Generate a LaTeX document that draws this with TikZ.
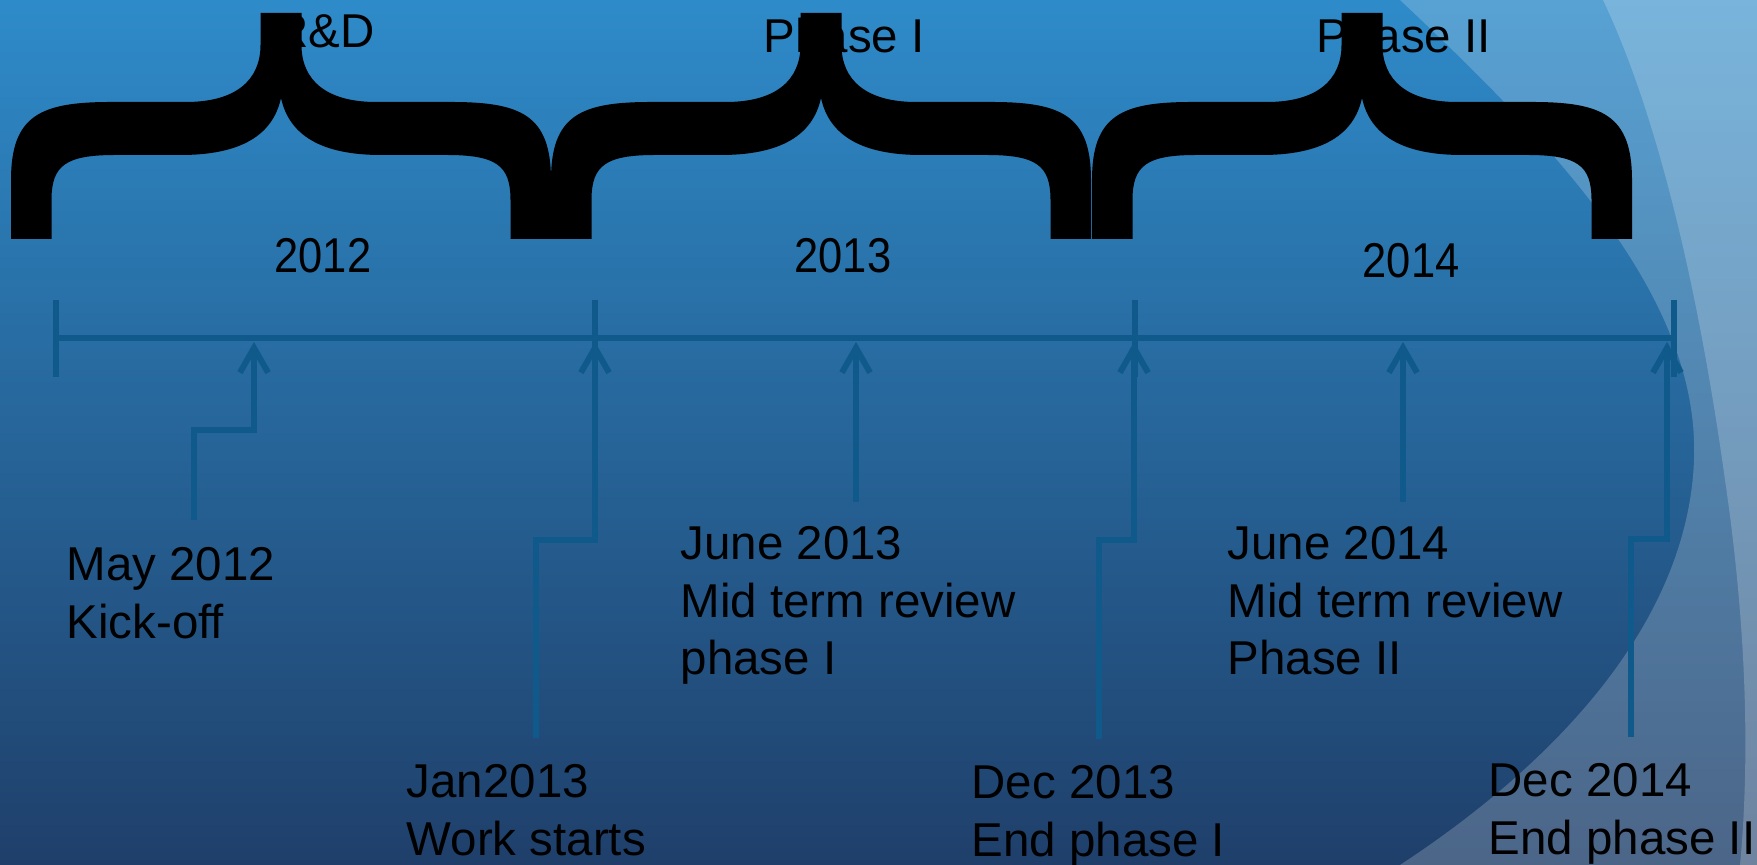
\documentclass[tikz,border=0pt]{standalone}
\usepackage{fontspec}
\setmainfont{Liberation Sans}
\newfontfamily\narrowsans[FakeStretch=0.89]{Liberation Sans}
\usetikzlibrary{arrows.meta}

\definecolor{bgtop}{HTML}{2E8BC9}
\definecolor{bgbot}{HTML}{1F3F6A}
\definecolor{axisblue}{HTML}{0F5A8A}

\tikzset{
  % one big black curly brace, opening downwards, origin at the spike centre
  pics/curlybrace/.style={code={
    \fill[black]
      (-270,239) -- (-270,180)
      .. controls (-270,115) and (-240,102) .. (-170,102) -- (-95,102)
      .. controls (-45,102) and (-20.5,80) .. (-20.5,45) -- (-20.5,13)
      -- (20.5,13) -- (20.5,45)
      .. controls (20.5,80) and (45,102) .. (95,102) -- (170,102)
      .. controls (240,102) and (270,115) .. (270,180) -- (270,239)
      -- (229.5,239) -- (229.5,200)
      .. controls (229.5,165) and (215,155) .. (165,155) -- (100,155)
      .. controls (40,155) and (8,135) .. (0,98)
      .. controls (-8,135) and (-40,155) .. (-100,155) -- (-165,155)
      .. controls (-215,155) and (-229.5,165) .. (-229.5,200)
      -- (-229.5,239) -- cycle;
  }},
  % multi-line labels: the base anchor sits on the last line
  lbl/.style={anchor=base west, align=left, inner sep=0pt,
    font=\fontsize{13.5pt}{16.36pt}\selectfont, text=black},
  hdr/.style={inner sep=0pt, font=\fontsize{13.5pt}{16pt}\selectfont, text=black},
  yearlbl/.style={anchor=base, inner sep=0pt,
    font=\narrowsans\fontsize{13.9pt}{16pt}\selectfont, text=black},
  axisline/.style={draw=axisblue, line width=1.85pt},
  milestone/.style={draw=axisblue, line width=1.7pt,
    -{Straight Barb[length=7pt,width=8pt]}},
}

\begin{document}
\begin{tikzpicture}[x=0.01cm, y=-0.01cm]
  \useasboundingbox (0,0) rectangle (1757,865);

  % background
  \shade[top color=bgtop, bottom color=bgbot] (0,0) rectangle (1757,865);
  \fill[white, fill opacity=0.2]
    (1400,0) .. controls (1560,150) and (1700,300) .. (1694,460)
    .. controls (1688,620) and (1560,760) .. (1400,865)
    -- (1757,865) -- (1757,0) -- cycle;
  \fill[white, fill opacity=0.2]
    (1603,0) .. controls (1660,120) and (1700,300) .. (1725,480)
    .. controls (1750,650) and (1748,780) .. (1740,865)
    -- (1757,865) -- (1757,0) -- cycle;

  % period titles
  \node[hdr, anchor=base east] (rd) at (375,48) {R\&D};
  \node[hdr, anchor=base west] (ph1) at (763,53) {Phase I};
  \node[hdr, anchor=base west] (ph2) at (1316,53) {Phase II};

  % braces over each year
  \pic at (281,0) {curlybrace};
  \pic at (821,0) {curlybrace};
  \pic at (1362,0) {curlybrace};

  % years
  \node[yearlbl] (y12) at (323,273) {2012};
  \node[yearlbl] (y13) at (843,273) {2013};
  \node[yearlbl] (y14) at (1411,278) {2014};

  % time axis
  \coordinate (a0) at (56,338);
  \coordinate (a3) at (1674,338);
  \draw[axisline] (a0) -- (a3);
  \foreach \tx in {56,595,1135,1674}
    \draw[axisline] (\tx,300) -- (\tx,377);

  % milestone anchors on the axis and feet of the connectors
  \coordinate (t1) at (254,342);  \coordinate (s1) at (194,520);
  \coordinate (t2) at (595,342);  \coordinate (s2) at (536,738);
  \coordinate (t3) at (856,342);  \coordinate (s3) at (856,502);
  \coordinate (t4) at (1134,342); \coordinate (s4) at (1099,739);
  \coordinate (t5) at (1403,342); \coordinate (s5) at (1403,502);
  \coordinate (t6) at (1667,342); \coordinate (s6) at (1631,737);

  \draw[milestone] (s1) -- ++(0,-90) -| (t1);
  \draw[milestone] (s2) -- ++(0,-198) -| (t2);
  \draw[milestone] (s3) -- (t3);
  \draw[milestone] (s4) -- ++(0,-199) -| (t4);
  \draw[milestone] (s5) -- (t5);
  \draw[milestone] (s6) -- ++(0,-198) -| (t6);

  % milestone texts (positioned by the baseline of their last line)
  \node[lbl] (may12) at (66,638.5) {May 2012\\Kick-off};
  \node[lbl] (jan13) at (406,855.5) {Jan2013\\Work starts};
  \node[lbl] (jun13) at (680,675) {June 2013\\Mid term review\\phase I};
  \node[lbl] (dec13) at (971,856.5) {Dec 2013\\End phase I};
  \node[lbl] (jun14) at (1227,675) {June 2014\\Mid term review\\Phase II};
  \node[lbl] (dec14) at (1488,854.5) {Dec 2014\\End phase II};
\end{tikzpicture}
\end{document}
